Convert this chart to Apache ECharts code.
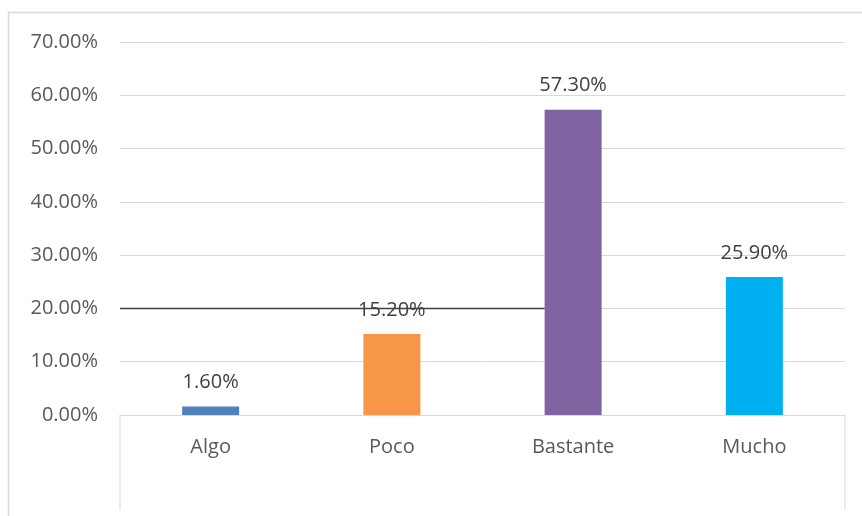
<!DOCTYPE html>
<html><head><meta charset="utf-8">
<script src="https://cdn.jsdelivr.net/npm/echarts@6/dist/echarts.min.js"></script>
<style>html,body{margin:0;padding:0;background:#fff}#c{width:862px;height:516px}</style>
</head><body><div id="c"></div>
<script>
const categories = ['Algo', 'Poco', 'Bastante', 'Mucho'];
const values = [1.6, 15.2, 57.3, 25.9];
const barColors = ['#4f81bd', '#f79646', '#8064a2', '#00b0f0'];
const refLineValue = 20;

const FONT = '"Open Sans", "Noto Sans", sans-serif';
const chart = echarts.init(document.getElementById('c'));
const BW = 57;
chart.setOption({
  animation: false,
  grid: {left: 120, right: 17, top: 42, bottom: 101},
  xAxis: {
    type: 'category', data: categories,
    axisLine: {lineStyle: {color: '#d9d9d9'}},
    axisTick: {show: false},
    axisLabel: {color: '#595959', fontSize: 20, fontFamily: FONT, margin: 22}
  },
  yAxis: {
    type: 'value', min: 0, max: 70, interval: 10,
    axisLine: {show: false}, axisTick: {show: false},
    splitLine: {lineStyle: {color: '#d9d9d9', width: 1}},
    axisLabel: {color: '#595959', fontSize: 20, fontFamily: FONT, margin: 22,
      formatter: v => v.toFixed(2) + '%'}
  },
  series: [{
    type: 'bar', barWidth: BW,
    data: values.map((v, i) => ({value: v, itemStyle: {color: barColors[i]}})),
    label: {show: true, position: 'top', distance: 14, color: '#404040', fontSize: 20, fontFamily: FONT,
      formatter: p => p.value.toFixed(2) + '%'}
  }]
});

function drawExtras() {
  const x0 = chart.convertToPixel({xAxisIndex: 0}, 'Algo');
  const x3 = chart.convertToPixel({xAxisIndex: 0}, 'Mucho');
  const step = (x3 - x0) / 3;
  const left = x0 - step / 2, right = x3 + step / 2;
  const y0 = chart.convertToPixel({yAxisIndex: 0}, 0);
  const yRef = chart.convertToPixel({yAxisIndex: 0}, refLineValue);
  const xBast = chart.convertToPixel({xAxisIndex: 0}, 'Bastante') - BW / 2;
  chart.setOption({
    graphic: [
      {type: 'rect', shape: {x: 8.5, y: 12.5, width: 900, height: 600}, style: {fill: 'none', stroke: '#d9d9d9', lineWidth: 1.5}, z: 0, silent: true},
      {type: 'line', shape: {x1: left, y1: y0, x2: left, y2: y0 + 95}, style: {stroke: '#d9d9d9', lineWidth: 1}, silent: true},
      {type: 'line', shape: {x1: right, y1: y0, x2: right, y2: y0 + 95}, style: {stroke: '#d9d9d9', lineWidth: 1}, silent: true},
      {type: 'line', shape: {x1: left, y1: yRef, x2: xBast, y2: yRef}, style: {stroke: '#404040', lineWidth: 1.5}, z: 100, silent: true}
    ]
  });
}
drawExtras();
</script>
</body></html>
